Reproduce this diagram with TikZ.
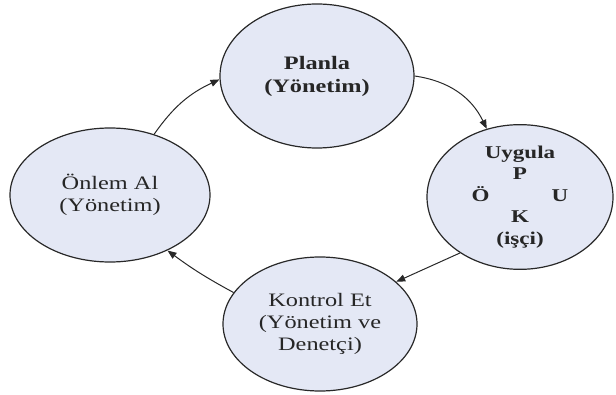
\documentclass[tikz,border=0pt]{standalone}
\usepackage{fontspec}
\setmainfont[FakeStretch=1.28]{Liberation Serif}
\usetikzlibrary{shapes.geometric,arrows.meta}
\definecolor{cyclefill}{RGB}{228,232,245}
\definecolor{cycleline}{RGB}{40,40,40}
\begin{document}
\begin{tikzpicture}[x=1pt,y=1pt,
  phase/.style={ellipse,draw=cycleline,line width=1.2pt,fill=cyclefill,
    inner sep=0pt,align=center,text=black!85,
    font=\fontsize{19}{22}\selectfont},
  flow/.style={draw=cycleline,line width=1pt,
    -{Triangle[length=9pt,width=7pt]}}]
\useasboundingbox (0,0) rectangle (616,394);
% the four stages of the cycle
\node[phase,minimum width=194pt,minimum height=144pt,font=\fontsize{19}{23}\selectfont\bfseries]
  (pl) at (317,318) {Planla\\(Yönetim)};
\node[phase,minimum width=186pt,minimum height=140pt,font=\fontsize{18}{21.5}\selectfont\bfseries]
  (uy) at (520,197) {Uygula\\P\\Ö\hspace{62pt}U\\K\\(işçi)};
\node[phase,minimum width=194pt,minimum height=134pt]
  (ke) at (320,70) {Kontrol Et\\(Yönetim ve\\Denetçi)};
\node[phase,minimum width=200pt,minimum height=134pt]
  (ol) at (110,199) {Önlem Al\\(Yönetim)};
% arrows between the stages
\draw[flow] (ol.54) to[bend left=15] (pl.182);
\draw[flow] (pl.0) to[bend left=28] (uy.116);
\draw[flow] (uy.223) -- (ke.29);
\draw[flow] (ke.160) to[bend left=4] (ol.316);
\end{tikzpicture}
\end{document}
